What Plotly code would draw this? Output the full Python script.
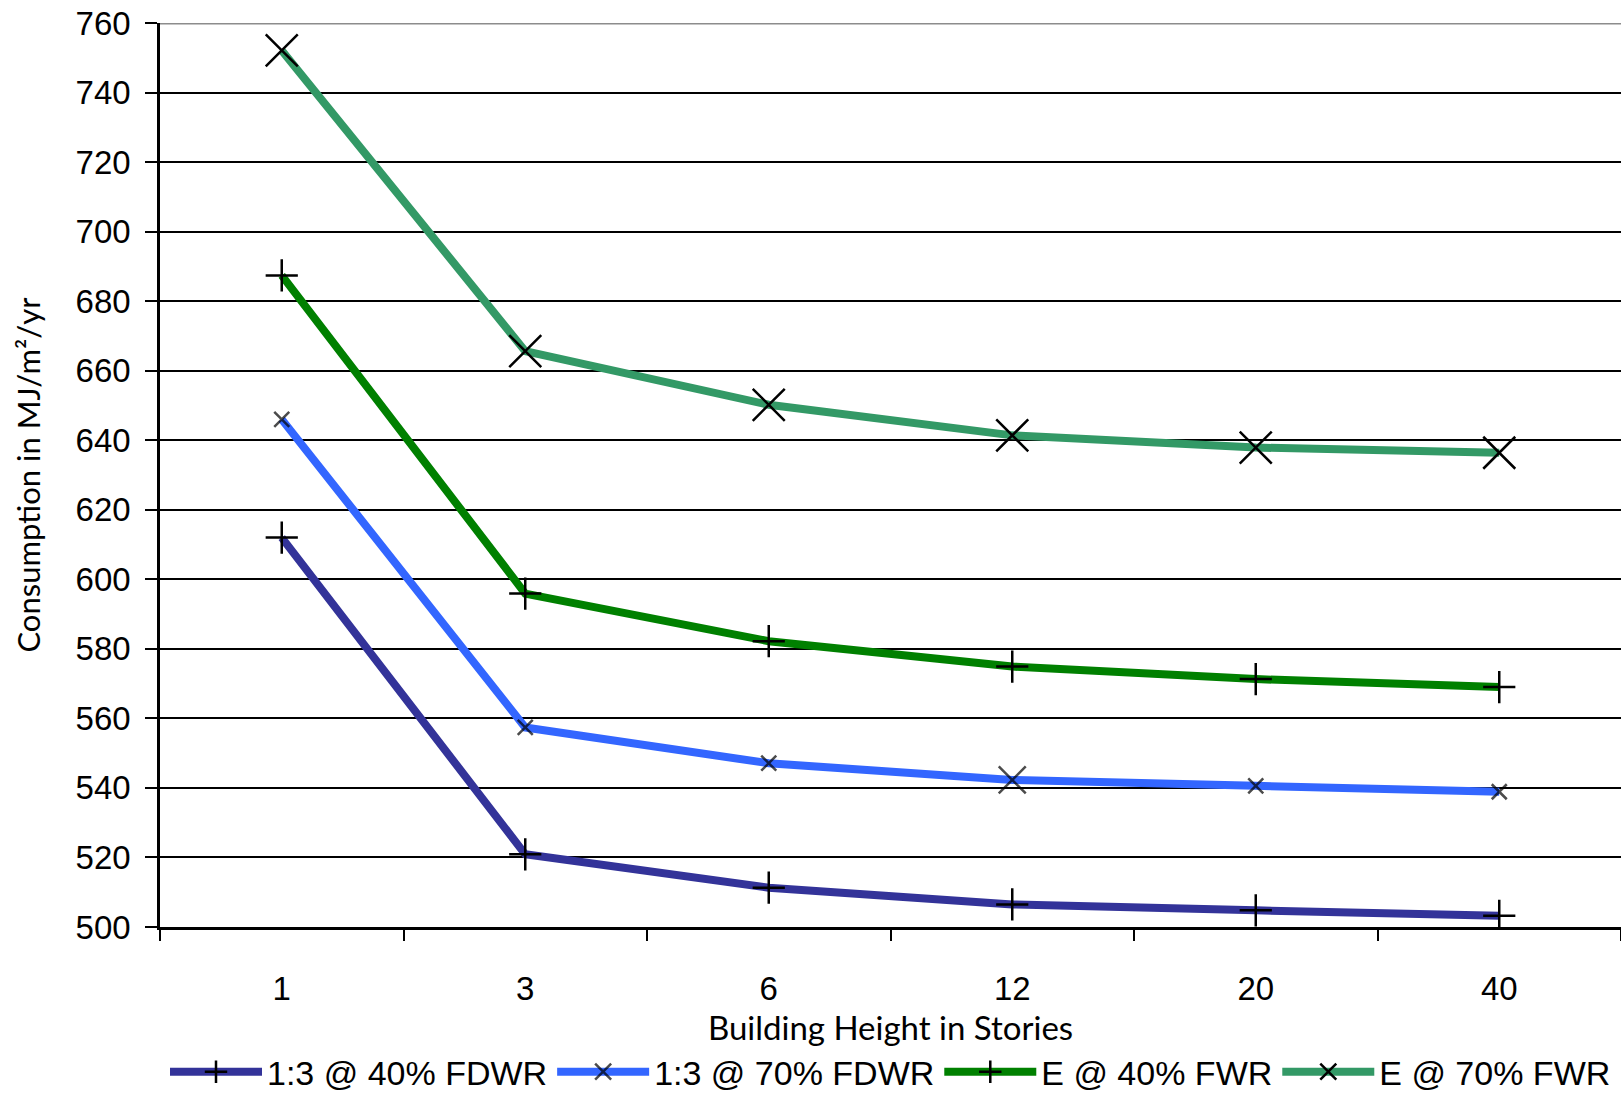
import plotly.graph_objects as go

# ---- data ----
categories = ["1", "3", "6", "12", "20", "40"]
series_names = ["1:3 @ 40% FDWR", "1:3 @ 70% FDWR", "E @ 40% FWR", "E @ 70% FWR"]
ratio_40 = [612.0, 520.9, 511.3, 506.5, 504.8, 503.2]
ratio_70 = [646.0, 557.4, 547.1, 542.3, 540.6, 538.9]
e_40 = [687.4, 595.9, 582.2, 574.9, 571.3, 569.0]
e_70 = [752.1, 665.6, 650.2, 641.4, 637.9, 636.4]
y_ticks = [500, 520, 540, 560, 580, 600, 620, 640, 660, 680, 700, 720, 740, 760]

# ---- style ----
colors = ["#333399", "#3366FF", "#008000", "#339966"]
symbols = ["cross-thin", "x-thin", "cross-thin", "x-thin"]
sizes = [23, [15, 15, 15, 27, 15, 15], 23, 32]
values = [ratio_40, ratio_70, e_40, e_70]

fig = go.Figure()
for name, vals, col, sym, sz in zip(series_names, values, colors, symbols, sizes):
    fig.add_trace(go.Scatter(
        x=categories, y=vals, name=name, mode="lines+markers",
        line=dict(color=col, width=8),
        marker=dict(symbol=sym, size=sz, color="black",
                    line=dict(color="black", width=2.5)),
        hoverinfo="x+y+name",
    ))

tick_font = dict(family="Liberation Sans, Arial, sans-serif", size=33, color="black")

fig.update_layout(
    width=1621, height=1098,
    margin=dict(l=160, r=0, t=23, b=171, autoexpand=False),
    plot_bgcolor="white", paper_bgcolor="white",
    showlegend=True,
    legend=dict(
        orientation="h", x=0.5, xanchor="center", y=-0.1605, yanchor="middle",
        font=dict(family="Liberation Sans, Arial, sans-serif", size=34, color="black"),
        itemwidth=92, bgcolor="rgba(0,0,0,0)", traceorder="normal",
    ),
    xaxis=dict(
        type="category", range=[-0.5, 5.5], tickson="boundaries",
        ticks="outside", ticklen=11, tickwidth=2, tickcolor="black",
        showline=True, linecolor="black", linewidth=3, showgrid=False,
        tickfont=tick_font, ticklabelstandoff=30, automargin=False,
        title=dict(text="Building Height in Stories",
                   font=dict(family="Lato, Carlito, sans-serif", size=33, color="black"),
                   standoff=10),
    ),
    yaxis=dict(
        range=[500, 760], tickvals=y_ticks, ticks="outside", ticklen=12,
        tickwidth=2, tickcolor="black", showline=True, linecolor="black",
        linewidth=2.5, showgrid=True, gridcolor="black", gridwidth=2,
        zeroline=False, tickfont=tick_font, ticklabelstandoff=8, automargin=False,
        title=dict(text="Consumption in MJ/m²/yr",
                   font=dict(family="Lato, Carlito, sans-serif", size=31, color="black"),
                   standoff=26),
    ),
    shapes=[dict(type="line", xref="paper", x0=0, x1=1, yref="y", y0=760, y1=760,
                 line=dict(color="#8c8c8c", width=3), layer="above")],
)

fig.write_html("out.html", config={"displayModeBar": False})
